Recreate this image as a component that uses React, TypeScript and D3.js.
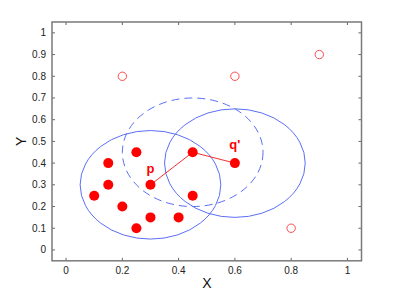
import React from "react";
import * as d3 from "d3";

// cluster members (filled) and outliers (open)
const coreX = [0.1, 0.15, 0.15, 0.2, 0.25, 0.25, 0.3, 0.3, 0.4, 0.45, 0.45, 0.6];
const coreY = [0.25, 0.4, 0.3, 0.2, 0.45, 0.1, 0.3, 0.15, 0.15, 0.45, 0.25, 0.4];
const noiseX = [0.2, 0.6, 0.9, 0.8];
const noiseY = [0.8, 0.8, 0.9, 0.1];

// eps-neighbourhoods: centre x, centre y, dashed?
const ringX = [0.3, 0.45, 0.6];
const ringY = [0.3, 0.45, 0.4];
const ringDashed = [false, true, false];
const eps = 0.25;

// density-reachable chain p -> o -> q'
const chainX = [0.3, 0.45, 0.6];
const chainY = [0.3, 0.45, 0.4];

const xTicks = [0, 0.2, 0.4, 0.6, 0.8, 1];
const yTicks = [0, 0.1, 0.2, 0.3, 0.4, 0.5, 0.6, 0.7, 0.8, 0.9, 1];

const W = 399;
const H = 294;
const box = { left: 52, top: 22, right: 361.5, bottom: 260.8 };

export default function App() {
  const x = d3.scaleLinear().domain([-0.05, 1.05]).range([box.left, box.right]);
  const y = d3.scaleLinear().domain([-0.05, 1.05]).range([box.bottom, box.top]);

  const line = d3
    .line<number>()
    .x((i) => x(chainX[i]))
    .y((i) => y(chainY[i]));

  const blue = "#5b6ff5";
  const font = "Liberation Sans, Arial, sans-serif";

  return (
    <svg
      width={W}
      height={H}
      style={{ position: "absolute", left: 0, top: 0, background: "#fff" }}
      fontFamily={font}
    >
      {/* ticks, inward on all four sides */}
      {xTicks.map((t) => (
        <g key={"xt" + t}>
          <line x1={x(t)} x2={x(t)} y1={box.bottom} y2={box.bottom - 3} stroke="#666" />
          <line x1={x(t)} x2={x(t)} y1={box.top} y2={box.top + 3} stroke="#666" />
          <text x={x(t)} y={274} fontSize={10} textAnchor="middle" fill="#222">
            {t}
          </text>
        </g>
      ))}
      {yTicks.map((t) => (
        <g key={"yt" + t}>
          <line x1={box.left} x2={box.left + 3} y1={y(t)} y2={y(t)} stroke="#666" />
          <line x1={box.right} x2={box.right - 3} y1={y(t)} y2={y(t)} stroke="#666" />
          <text x={46} y={y(t) + 3.5} fontSize={10} textAnchor="end" fill="#222">
            {t}
          </text>
        </g>
      ))}

      {/* eps circles */}
      {ringX.map((cx, i) => (
        <ellipse
          key={"r" + i}
          cx={x(cx)}
          cy={y(ringY[i])}
          rx={x(eps) - x(0)}
          ry={y(0) - y(eps)}
          fill="none"
          stroke={blue}
          strokeWidth={1}
          strokeDasharray={ringDashed[i] ? "8 5" : undefined}
        />
      ))}

      {/* reachability chain */}
      <path d={line(d3.range(chainX.length)) ?? ""} fill="none" stroke="#f03030" strokeWidth={1} />

      {coreX.map((cx, i) => (
        <circle key={"c" + i} cx={x(cx)} cy={y(coreY[i])} r={5} fill="#ff0000" />
      ))}
      {noiseX.map((cx, i) => (
        <circle
          key={"n" + i}
          cx={x(cx)}
          cy={y(noiseY[i])}
          r={4.2}
          fill="none"
          stroke="#ff4a4a"
          strokeWidth={1}
        />
      ))}

      <text x={x(0.3)} y={y(0.3) - 12} fontSize={13} fontWeight="bold" fill="#ff0000" textAnchor="middle">
        p
      </text>
      <text x={x(0.6)} y={y(0.4) - 14} fontSize={13} fontWeight="bold" fill="#ff0000" textAnchor="middle">
        q'
      </text>

      {/* axes box */}
      <rect
        x={box.left}
        y={box.top}
        width={box.right - box.left}
        height={box.bottom - box.top}
        fill="none"
        stroke="#7a7a7a"
        strokeWidth={1.5}
      />

      <text x={207} y={288} fontSize={14} textAnchor="middle" fill="#111">
        X
      </text>
      <text
        transform={`translate(26,${y(0.5)}) rotate(-90)`}
        fontSize={14}
        textAnchor="middle"
        fill="#111"
      >
        Y
      </text>
    </svg>
  );
}
